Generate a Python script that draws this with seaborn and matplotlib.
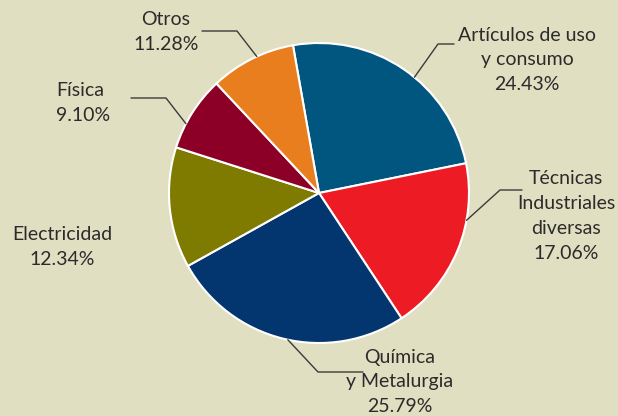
import matplotlib
matplotlib.use("Agg")
import matplotlib.pyplot as plt
import numpy as np
import seaborn as sns

# data
categories = ["Artículos de uso\ny consumo", "Técnicas\nIndustriales\ndiversas",
              "Química\ny Metalurgia", "Electricidad", "Física", "Otros"]
shares = [24.43, 17.06, 25.79, 12.34, 9.10, 11.28]   # printed labels
# wedge sizes as actually drawn in the source picture (measured angles, %)
slice_sizes = [24.6, 18.9, 26.2, 13.0, 8.1, 9.2]
colors = ["#00567f", "#ed1c24", "#03366f", "#7f7a00", "#8c0027", "#e97e1f"]

# label layout (pixel coords, y from top)
label_xy = [(527, 60), (566, 216), (400, 382), (62, 247), (56, 103), (166, 32)]
label_ha = ["center", "center", "center", "center", "left", "center"]
# leader lines: angle on the pie rim, elbow point, end point (None = no line)
leader_angle = [50.5, -10.5, -102, None, 152.5, 114.5]
leader_elbow = [(438, 44), (500, 190), (318, 372), None, (166, 98), (237, 31)]
leader_end = [(454, 44), (522, 190), (363, 372), None, (131, 98), (202, 31)]

bg = "#e1dfc1"
sns.set_theme(style="white")
plt.rcParams["font.family"] = ["Lato", "DejaVu Sans"]

W, H = 618, 416
fig = plt.figure(figsize=(6.18, 4.16), dpi=100, facecolor=bg)
ax = fig.add_axes([0, 0, 1, 1])
ax.set_facecolor(bg)

cx, cy, r = 319, H - 193, 150
ax.pie(slice_sizes, colors=colors, startangle=100, counterclock=False,
       center=(cx, cy), radius=r,
       wedgeprops=dict(edgecolor="white", linewidth=1.5))

ax.set_xlim(0, W)
ax.set_ylim(0, H)
ax.set_aspect("equal")
ax.axis("off")

for i, cat in enumerate(categories):
    text = cat + "\n" + "%.2f%%" % shares[i]
    x, y = label_xy[i]
    ax.text(x, H - y, text, ha=label_ha[i], va="center", ma=label_ha[i],
            fontsize=14, color="#2b2b2b", linespacing=1.55)
    if leader_angle[i] is not None:
        a = np.deg2rad(leader_angle[i])
        x0, y0 = cx + r * np.cos(a), cy + r * np.sin(a)
        ex, ey = leader_elbow[i]
        fx, fy = leader_end[i]
        ax.plot([x0, ex, fx], [y0, H - ey, H - fy], color="#3a3a3a", lw=1)

fig.savefig("out.png", dpi=100, facecolor=bg)
